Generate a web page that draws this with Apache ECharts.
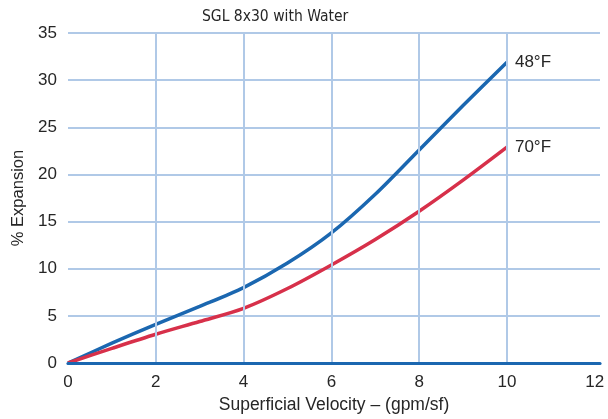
<!DOCTYPE html>
<html>
<head>
<meta charset="utf-8">
<script src="https://cdn.jsdelivr.net/npm/echarts@6/dist/echarts.min.js"></script>
<style>
html,body{margin:0;padding:0;background:#fff;}
#chart{width:608px;height:419px;}
</style>
</head>
<body>
<div id="chart"></div>
<script>
const velocity = [0, 1, 2, 3, 4, 5, 6, 7, 8, 9, 10];
const exp48F = [0, 2.1, 4.1, 6.0, 8.0, 10.6, 13.8, 17.9, 22.6, 27.3, 31.9];
const exp70F = [0, 1.55, 3.05, 4.4, 5.8, 7.9, 10.4, 13.1, 16.1, 19.4, 22.9];
const seriesNames = ['48°F', '70°F'];
const titleText = 'SGL 8x30 with Water';
const xName = 'Superficial Velocity – (gpm/sf)';
const yName = '% Expansion';

const REG = "'Liberation Sans', Arial, sans-serif";
const COND = "'DejaVu Sans Condensed', 'Liberation Sans', sans-serif";
const GRID = '#b0c9e7';
const BLUE = '#1b67b0';
const RED = '#d7304a';
const TXT = '#262626';
const T = 'rgba(0,0,0,0)';

const chart = echarts.init(document.getElementById('chart'), null, {renderer: 'canvas'});
chart.setOption({
  animation: false,
  backgroundColor: '#fff',
  title: {
    text: titleText, left: 197, top: 4,
    textStyle: {fontFamily: COND, fontSize: 15.5, fontWeight: 'normal', color: TXT}
  },
  grid: {left: 68, right: 8, top: 33, bottom: 51},
  xAxis: [{
    type: 'value', min: 0, max: 12.12, interval: 2,
    name: xName, nameLocation: 'middle', nameGap: 33,
    nameTextStyle: {fontFamily: REG, fontSize: 17.5, color: TXT},
    axisLine: {show: true, onZero: false, lineStyle: {color: BLUE, width: 3}},
    axisTick: {show: false},
    axisLabel: {fontFamily: REG, fontSize: 17, color: TXT, margin: 11,
      formatter: v => (Math.abs(v % 2) < 1e-9 ? String(v) : '')},
    splitLine: {show: true, lineStyle: {color: [T, GRID, GRID, GRID, GRID, GRID, T, T], width: 2}},
    z: 5
  }, {
    type: 'value', min: 0, max: 12.12, position: 'top',
    axisLine: {show: true, lineStyle: {color: GRID, width: 3}},
    axisTick: {show: false}, axisLabel: {show: false}, splitLine: {show: false}
  }],
  yAxis: {
    type: 'value', min: 0, max: 35, interval: 5,
    name: yName, nameLocation: 'middle', nameGap: 34, nameRotate: 90,
    nameTextStyle: {fontFamily: REG, fontSize: 16.5, color: TXT},
    axisLine: {show: false}, axisTick: {show: false},
    axisLabel: {fontFamily: REG, fontSize: 17, color: TXT, margin: 11},
    splitLine: {show: true, lineStyle: {color: [T, GRID, GRID, GRID, GRID, GRID, GRID, GRID], width: 2}}
  },
  series: [
    {name: seriesNames[0], type: 'line', smooth: 0.3, showSymbol: false,
     data: velocity.map((x, i) => [x, exp48F[i]]),
     lineStyle: {color: BLUE, width: 3.5}, itemStyle: {color: BLUE},
     endLabel: {show: true, formatter: '{a}', distance: 8, fontFamily: REG, fontSize: 17, color: TXT}},
    {name: seriesNames[1], type: 'line', smooth: 0.3, showSymbol: false,
     data: velocity.map((x, i) => [x, exp70F[i]]),
     lineStyle: {color: RED, width: 3.5}, itemStyle: {color: RED},
     endLabel: {show: true, formatter: '{a}', distance: 8, fontFamily: REG, fontSize: 17, color: TXT}}
  ]
});
</script>
</body>
</html>
